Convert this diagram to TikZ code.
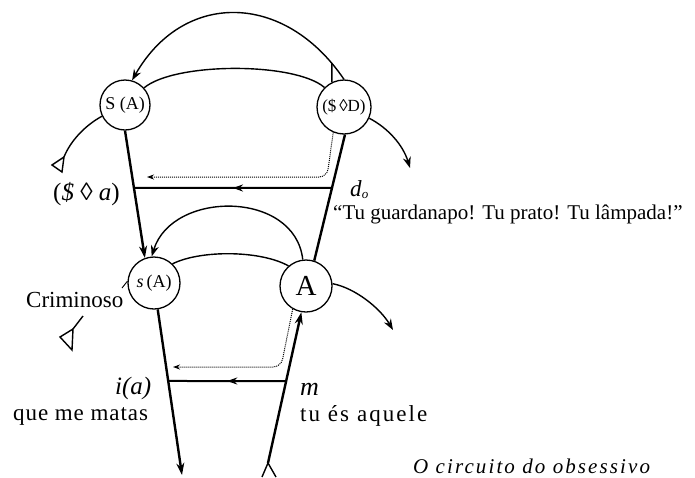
\documentclass[tikz,border=0pt]{standalone}
\usepackage{fontspec}
\setmainfont{Liberation Serif}
\newfontfamily\spacedA[LetterSpace=4]{Liberation Serif}
\newfontfamily\spacedB[LetterSpace=9]{Liberation Serif}
\newfontfamily\spacedC[LetterSpace=10]{Liberation Serif}
\usetikzlibrary{arrows.meta,decorations.markings,calc}
\begin{document}
\begin{tikzpicture}[x=1pt,y=-1pt,
  circ/.style={circle,draw,line width=1.3pt,inner sep=0pt},
  heavy/.style={line width=2.4pt},
  midline/.style={line width=2pt},
  arcline/.style={line width=1.4pt},
  dotline/.style={densely dotted,line width=1pt},
  tip/.style={-{Stealth[length=12pt,width=8pt]}},
  smalltip/.style={-{Stealth[length=7pt,width=5pt]}},
  midarrow/.style={postaction={decorate},decoration={markings,mark=at position 0.5 with {\arrow{Stealth[length=10pt,width=7pt]}}}},
  lbl/.style={inner sep=0pt,font=\fontsize{23}{25}\selectfont}
]
\useasboundingbox (0,0) rectangle (695,477);

% circles
\node[circ,minimum size=50pt] (SA) at (125,105) {\fontsize{18}{18}\selectfont S (A)};
\node[circ,minimum size=54pt] (SD) at (344,107) {\fontsize{17}{17}\selectfont(\$\,◊D)};
\node[circ,minimum size=52pt] (sA) at (154,283) {\fontsize{18}{18}\selectfont\textit{s}\,(A)};
\node[circ,minimum size=52pt] (A) at (306,286) {\fontsize{29}{29}\selectfont A};

% free ends
\coordinate (bl) at (182,475);
\coordinate (fork) at (268,463);
\coordinate (forkL) at (262,477);
\coordinate (forkR) at (276,477);
\coordinate (tl) at (64,157);
\coordinate (tla) at (52,165);
\coordinate (tlb) at (62,172);
\coordinate (c0) at (83,316);
\coordinate (c1) at (73,329);
\coordinate (c2) at (60,337);
\coordinate (c3) at (72,350);
\coordinate (ra) at (410,168);
\coordinate (rb) at (393,330);
\coordinate (d1c) at (327,177);
\coordinate (d1e) at (147,177);
\coordinate (d2c) at (281,367);
\coordinate (d2e) at (173,367);
\coordinate (stk) at (122,288);

% vertical lines
\draw[heavy,tip] (SA.270) -- (sA.110);
\draw[heavy,tip] (sA.278) -- (bl);
\draw[heavy] (SD.272) -- (A.72);
\draw[heavy,tip] (fork) -- (A.260);
\draw[arcline] (forkL) -- (fork) -- (forkR);

% horizontal lines
\coordinate (hR1) at (intersection of SD.272--A.72 and 0,188--10,188);
\coordinate (hL1) at (intersection of SA.270--sA.110 and 0,188--10,188);
\draw[midline,midarrow] (hR1) -- (hL1);
\coordinate (hR2) at (intersection of fork--A.260 and 0,381--10,381);
\coordinate (hL2) at (intersection of sA.278--bl and 0,381--10,381);
\draw[midline,midarrow] (hR2) -- (hL2);

% dotted lines
\draw[dotline,rounded corners=8pt,smalltip] (SD.247) -- (d1c) -- (d1e);
\draw[dotline,rounded corners=8pt,smalltip] (A.240) -- (d2c) -- (d2e);

% upper arcs
\draw[arcline,-{Stealth[length=11pt,width=8pt]}] (SD.90) .. controls (284,-9) and (183,-9) .. (SA.74) coordinate[pos=0.065] (tick);
\draw[arcline] (SD.116) -- (tick);
\draw[arcline] (SA.42) .. controls (175,62) and (295,62) .. (SD.135);
\draw[arcline] (SA.206) .. controls (84,126) and (70,142) .. (tl);
\draw[arcline] (tl) -- (tla) -- (tlb) -- cycle;
\draw[arcline,-{Stealth[length=11pt,width=8pt]}] (SD.336) .. controls (388,128) and (403,145) .. (ra);

% lower arcs
\draw[arcline,-{Stealth[length=11pt,width=8pt]}] (A.97) .. controls (295,190) and (172,190) .. (sA.95);
\draw[arcline] (sA.46) .. controls (200,250) and (260,250) .. (A.131);
\draw[arcline,-{Stealth[length=11pt,width=8pt]}] (A.5) .. controls (355,288) and (380,308) .. (rb);
\draw[line width=0.9pt] (sA.176) -- (stk);
\draw[arcline] (c0) -- (c1);
\draw[arcline] (c1) -- (c2) -- (c3) -- cycle;

% labels
\node[lbl,anchor=base west,font=\fontsize{25}{26}\selectfont] (lSa) at (53,200) {(\textit{\$} ◊ \textit{a})};
\node[lbl,anchor=base west] (ldo) at (350,196) {\textit{d}\raisebox{-2pt}{\fontsize{13}{13}\selectfont\textit{o}}};
\node[lbl,anchor=base west,font=\fontsize{21}{24}\selectfont] (ltu) at (333,219) {“Tu guardanapo! Tu prato! Tu lâmpada!”};
\node[lbl,anchor=base west,font=\fontsize{25}{26}\selectfont] (lia) at (115,394) {\textit{i(a)}};
\node[lbl,anchor=base west] (lq) at (13,420) {\spacedA que me matas};
\node[lbl,anchor=base west,font=\fontsize{26}{26}\selectfont] (lm) at (300,395) {\textit{m}};
\node[lbl,anchor=base west] (lt) at (300,421) {\spacedB tu és aquele};
\node[lbl,anchor=base west,font=\fontsize{21}{24}\selectfont] (lc) at (413,473) {\spacedC\itshape O circuito do obsessivo};
\node[lbl,anchor=base west] (lcr) at (26,307) {Criminoso};
\end{tikzpicture}
\end{document}
